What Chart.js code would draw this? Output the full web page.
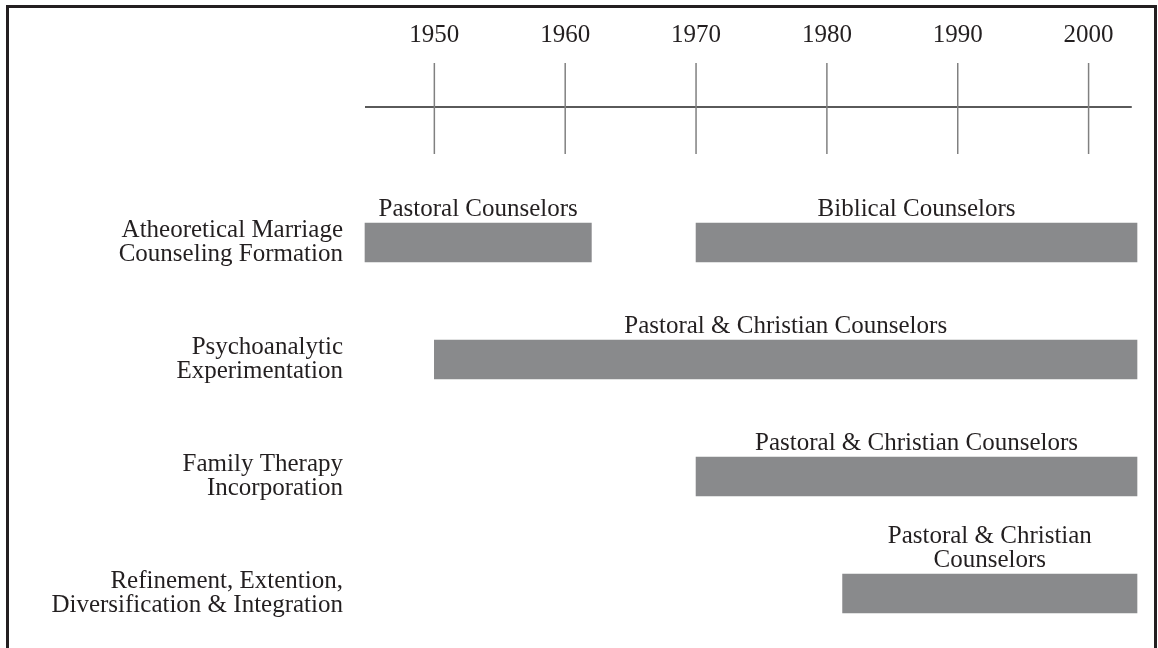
<!DOCTYPE html>
<html lang="en">
<head>
    <meta charset="UTF-8">
    <title>Marriage Counseling Timeline</title>
    <script src="https://cdn.jsdelivr.net/npm/chart.js"></script>
    <style>
        body { margin: 0; overflow: hidden; background: #fff; }
        #wrap { position: relative; width: 1158px; height: 648px; }
        #frame {
            position: absolute; left: 6px; top: 5px; width: 1151px; height: 700px;
            box-sizing: border-box; border: 3px solid #231f20; border-bottom: none;
            pointer-events: none;
        }
    </style>
    <script>
        // phases (rows) and the counselor groups drawn on each
        const phases = [
            ['Atheoretical Marriage', 'Counseling Formation'],
            ['Psychoanalytic', 'Experimentation'],
            ['Family Therapy', 'Incorporation'],
            ['Refinement, Extention,', 'Diversification & Integration']
        ];
        const mainStart = [1944.7, 1950, 1970, 1981.2];
        const mainEnd = [1962, 2003.7, 2003.7, 2003.7];
        const mainNames = ['Pastoral Counselors', 'Pastoral & Christian Counselors',
            'Pastoral & Christian Counselors', ['Pastoral & Christian', 'Counselors']];
        const extraStart = [1970, null, null, null];
        const extraEnd = [2003.7, null, null, null];
        const extraNames = ['Biblical Counselors', null, null, null];

        const years = [1950, 1960, 1970, 1980, 1990, 2000];
        const axisFrom = 1944.7;
        const axisTo = 2003.3;

        const FONT = 'Liberation Serif, Times New Roman, serif';
        const INK = '#231f20';

        const timeline = {
            id: 'timeline',
            afterDatasetsDraw(chart) {
                const ctx = chart.ctx;
                const x = chart.scales.x;
                ctx.save();
                // top axis
                ctx.strokeStyle = '#5a5a5a';
                ctx.lineWidth = 2;
                ctx.beginPath();
                ctx.moveTo(x.getPixelForValue(axisFrom), 107);
                ctx.lineTo(x.getPixelForValue(axisTo), 107);
                ctx.stroke();
                ctx.strokeStyle = '#808080';
                ctx.lineWidth = 1.5;
                ctx.fillStyle = INK;
                ctx.font = '25px ' + FONT;
                ctx.textAlign = 'center';
                ctx.textBaseline = 'alphabetic';
                years.forEach(y => {
                    const px = x.getPixelForValue(y);
                    ctx.beginPath();
                    ctx.moveTo(px, 63);
                    ctx.lineTo(px, 154);
                    ctx.stroke();
                    ctx.fillText(String(y), px, 42);
                });
                // bar captions
                const names = [mainNames, extraNames];
                chart.data.datasets.forEach((ds, i) => {
                    chart.getDatasetMeta(i).data.forEach((bar, j) => {
                        const txt = names[i][j];
                        if (!txt || ds.data[j] === null) return;
                        const lines = Array.isArray(txt) ? txt : [txt];
                        const cx = (bar.x + bar.base) / 2;
                        const top = bar.y - bar.height / 2;
                        lines.forEach((line, k) => {
                            ctx.fillText(line, cx, top - 7 - (lines.length - 1 - k) * 24);
                        });
                    });
                });
                ctx.restore();
            }
        };

        window.onload = function() {
            const ctx = document.getElementById('chart').getContext('2d');
            new Chart(ctx, {
                type: 'bar',
                data: {
                    labels: phases,
                    datasets: [
                        {
                            data: mainStart.map((s, i) => [s, mainEnd[i]]),
                            backgroundColor: '#898a8c',
                            barThickness: 39,
                            clip: false
                        },
                        {
                            data: extraStart.map((s, i) => s === null ? null : [s, extraEnd[i]]),
                            backgroundColor: '#898a8c',
                            barThickness: 39,
                            clip: false
                        }
                    ]
                },
                options: {
                    indexAxis: 'y',
                    responsive: false,
                    animation: false,
                    grouped: false,
                    layout: { padding: { left: 0, right: 21, top: 242.5, bottom: 54.5 } },
                    plugins: { legend: { display: false }, tooltip: { enabled: false } },
                    scales: {
                        x: { display: false, min: 1944.7, max: 2003.7 },
                        y: {
                            offset: false,
                            grid: { display: false, drawTicks: false },
                            border: { display: false },
                            afterFit: s => { s.width = 365; },
                            ticks: {
                                color: INK,
                                padding: 22,
                                crossAlign: 'near',
                                font: { family: FONT, size: 25, lineHeight: 0.96 }
                            }
                        }
                    }
                },
                plugins: [timeline]
            });
        };
    </script>
</head>
<body>
    <div id="wrap">
        <canvas id="chart" width="1158" height="648"></canvas>
        <div id="frame"></div>
    </div>
</body>
</html>
